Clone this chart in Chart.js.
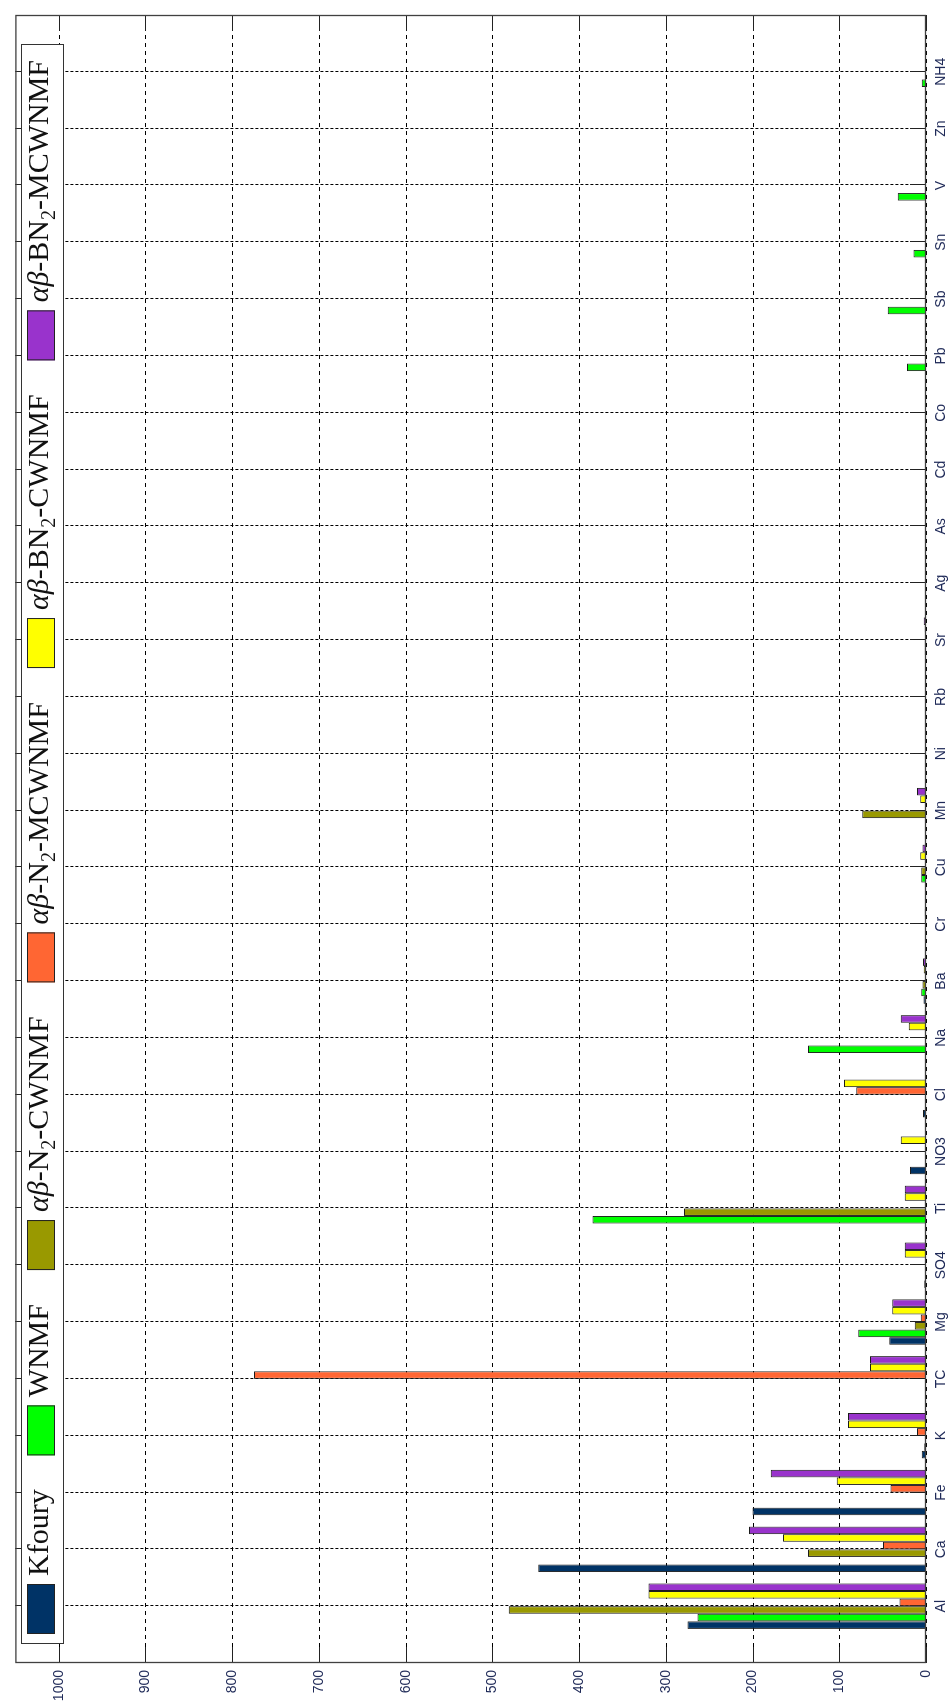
<!DOCTYPE html>
<html>
<head>
<meta charset="utf-8">
<script src="https://cdn.jsdelivr.net/npm/chart.js@4.4.1/dist/chart.umd.min.js"></script>
<style>
  html, body { margin: 0; padding: 0; background: #fff; }
  #page { position: relative; width: 948px; height: 1704px; overflow: hidden; }
  /* the chart is drawn upright, then turned a quarter turn to the left */
  #chart { position: absolute; left: 0; top: 0; transform-origin: 0 0; transform: translate(0, 1704px) rotate(-90deg); }
</style>
</head>
<body>
<div id="page"><canvas id="chart" width="1704" height="948"></canvas></div>
<script>
// Categories (species) and values
const categories = ['Al', 'Ca', 'Fe', 'K', 'TC', 'Mg', 'SO4', 'Ti', 'NO3', 'Cl', 'Na', 'Ba', 'Cr', 'Cu',
  'Mn', 'Ni', 'Rb', 'Sr', 'Ag', 'As', 'Cd', 'Co', 'Pb', 'Sb', 'Sn', 'V', 'Zn', 'NH4'];

const kfoury    = [275, 447, 200, 5, 0, 42.5, 2, 1, 18.5, 3.5, 0, 3, 0.5, 0.5, 1, 0, 1, 0.5, 0, 0, 0, 0, 0, 0, 1, 0, 0, 0];
const wnmf      = [263.5, 0, 0, 2, 0, 78, 0, 384.5, 0, 0, 136, 5.5, 0, 5.5, 0, 0, 0, 1.5, 0, 0, 0, 0, 22, 44, 14.5, 32.5, 0, 5];
const n2Cwnmf   = [481, 136, 0, 0, 0, 13, 0, 279, 0, 0, 0, 4, 0, 5.5, 73.5, 0, 0, 1.5, 0, 0, 0, 1, 0, 0, 0, 0, 0, 0];
const n2Mcwnmf  = [30.5, 49.5, 41, 10.5, 775, 6, 0, 0, 0, 80.5, 0, 0, 0, 0, 0, 0, 0, 0, 0, 0, 0, 0, 0, 0, 0, 0, 0, 0];
const bn2Cwnmf  = [320, 165, 103, 90, 64.5, 39, 24.5, 24.5, 29, 94.5, 20, 2.5, 1.5, 6.5, 6.5, 0, 0, 1.5, 0, 0, 0, 0, 0, 0, 0, 0, 0, 0];
const bn2Mcwnmf = [320, 204, 179, 90, 64.5, 39, 24.5, 24.5, 0, 0, 29, 3.5, 0, 4, 10.5, 0, 0, 2.5, 0, 0, 0, 0, 0, 0, 0, 0, 0, 0];

const seriesNames = ['Kfoury', 'WNMF', 'αβ-N₂-CWNMF', 'αβ-N₂-MCWNMF', 'αβ-BN₂-CWNMF', 'αβ-BN₂-MCWNMF'];
const seriesColors = ['#003366', '#00ff00', '#999900', '#ff6633', '#ffff00', '#9933cc'];
const seriesValues = [kfoury, wnmf, n2Cwnmf, n2Mcwnmf, bn2Cwnmf, bn2Mcwnmf];

const valueTicks = [0, 100, 200, 300, 400, 500, 600, 700, 800, 900, 1000];

const labelColor = '#1f2a58';
const tickFont = { family: '"Liberation Sans", Arial, sans-serif', size: 14 };

const legendFont = (style, size) => `${style} ${size}px "Liberation Serif", "DejaVu Serif", serif`;

// draws a legend label with italic greek letters and a subscript 2, returns its width
const drawRichText = (ctx, text, x, baseline, draw) => {
  let cx = x;
  for (const ch of text) {
    let s = ch, dy = 0;
    if (ch === '₂') { ctx.font = legendFont('normal', 20); s = '2'; dy = 7; }
    else if (ch === 'α' || ch === 'β') ctx.font = legendFont('italic', 30);
    else ctx.font = legendFont('normal', 30);
    if (draw) ctx.fillText(s, cx, baseline + dy);
    cx += ctx.measureText(s).width;
  }
  return cx - x;
};

const line = (ctx, x1, y1, x2, y2) => {
  ctx.beginPath();
  ctx.moveTo(x1, y1);
  ctx.lineTo(x2, y2);
  ctx.stroke();
};

// dashed grid and inward tick marks, like the original plot
const gridPlugin = {
  id: 'gridPlugin',
  beforeDatasetsDraw(chart) {
    const { ctx, chartArea: a, scales: { x, y } } = chart;
    const tl = 16;
    ctx.save();
    ctx.strokeStyle = '#000';
    ctx.lineWidth = 1;
    ctx.setLineDash([4, 4]);
    y.ticks.forEach(t => {
      const py = Math.round(y.getPixelForValue(t.value)) + 0.5;
      line(ctx, a.left, py, a.right, py);
    });
    ctx.setLineDash([3, 2]);
    x.ticks.forEach(t => {
      const px = Math.round(x.getPixelForValue(t.value)) + 0.5;
      line(ctx, px, a.top, px, a.bottom);
    });
    ctx.setLineDash([]);
    ctx.strokeStyle = '#222';
    y.ticks.forEach(t => {
      const py = Math.round(y.getPixelForValue(t.value)) + 0.5;
      line(ctx, a.left, py, a.left + tl, py);
      line(ctx, a.right - tl, py, a.right, py);
    });
    x.ticks.forEach(t => {
      const px = Math.round(x.getPixelForValue(t.value)) + 0.5;
      line(ctx, px, a.top, px, a.top + tl);
      line(ctx, px, a.bottom - tl, px, a.bottom);
    });
    ctx.restore();
  },
  afterDatasetsDraw(chart) {
    const { ctx, chartArea: a } = chart;
    ctx.save();
    ctx.strokeStyle = '#404040';
    ctx.lineWidth = 1.3;
    ctx.strokeRect(a.left + 0.5, a.top + 0.5, a.right - a.left - 1, a.bottom - a.top - 1);
    ctx.restore();
  }
};

// boxed legend inside the plot area
const legendPlugin = {
  id: 'legendPlugin',
  afterDraw(chart) {
    const { ctx } = chart;
    const box = { left: 60, right: 1660, top: 21, bottom: 64 };
    const patchW = 50, patchTop = 27, patchH = 28, padL = 10, padR = 16, textGap = 8;
    const widths = seriesNames.map(n => drawRichText(ctx, n, 0, 0, false));
    const used = widths.reduce((s, w) => s + w + patchW + textGap, 0);
    const gap = (box.right - box.left - padL - padR - used) / (seriesNames.length - 1);

    ctx.save();
    ctx.fillStyle = '#fff';
    ctx.fillRect(box.left, box.top, box.right - box.left, box.bottom - box.top);
    ctx.strokeStyle = '#333';
    ctx.lineWidth = 1;
    ctx.strokeRect(box.left + 0.5, box.top + 0.5, box.right - box.left - 1, box.bottom - box.top - 1);

    let cx = box.left + padL;
    seriesNames.forEach((name, i) => {
      ctx.fillStyle = seriesColors[i];
      ctx.fillRect(cx, patchTop, patchW, patchH);
      ctx.strokeStyle = '#222';
      ctx.strokeRect(cx + 0.5, patchTop + 0.5, patchW - 1, patchH - 1);
      ctx.fillStyle = '#111';
      ctx.textBaseline = 'alphabetic';
      drawRichText(ctx, name, cx + patchW + textGap, 48, true);
      cx += patchW + textGap + widths[i] + gap;
    });
    ctx.restore();
  }
};

const datasets = seriesNames.map((name, i) => ({
  label: name,
  data: seriesValues[i].map((v, j) => ({ x: j + 1, y: v })),
  backgroundColor: seriesColors[i],
  borderColor: '#1a1a1a',
  borderWidth: 1,
  borderSkipped: false,
  categoryPercentage: 0.8,
  barPercentage: 1.0,
}));

const chart = new Chart(document.getElementById('chart').getContext('2d'), {
  type: 'bar',
  data: { datasets },
  options: {
    responsive: false,
    animation: false,
    devicePixelRatio: 1,
    layout: { padding: { top: 8, right: 15, left: 0, bottom: 0 } },
    plugins: {
      legend: { display: false },
      tooltip: { enabled: false },
    },
    scales: {
      x: {
        type: 'linear',
        min: 0,
        max: categories.length + 1,
        offset: false,
        afterBuildTicks: s => { s.ticks = categories.map((c, i) => ({ value: i + 1 })); },
        afterFit: s => { s.height = 22; },
        grid: { display: false, drawTicks: false },
        border: { display: false },
        ticks: {
          autoSkip: false,
          maxRotation: 0,
          padding: 7,
          color: labelColor,
          font: tickFont,
          callback: v => categories[v - 1] ?? '',
        },
      },
      y: {
        min: 0,
        max: 1050,
        afterBuildTicks: s => { s.ticks = valueTicks.map(v => ({ value: v })); },
        afterFit: s => { s.width = 41; },
        grid: { display: false, drawTicks: false },
        border: { display: false },
        ticks: {
          padding: 7,
          color: labelColor,
          font: tickFont,
          callback: v => String(v),
        },
      },
    },
  },
  plugins: [gridPlugin, legendPlugin],
});
</script>
</body>
</html>
